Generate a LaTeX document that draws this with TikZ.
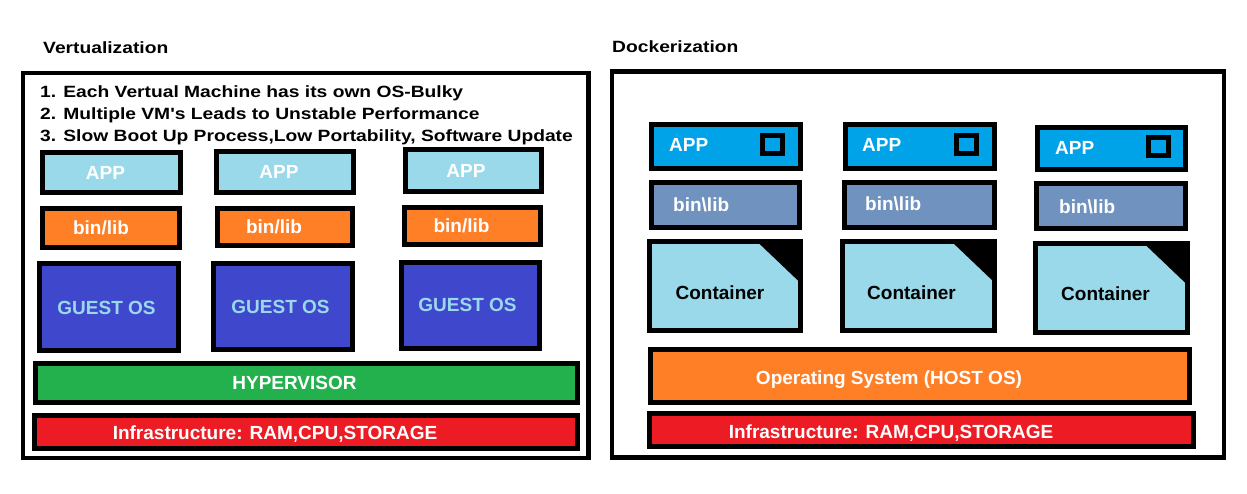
\documentclass[tikz,border=0pt]{standalone}
\usepackage{fontspec}
\setmainfont{Liberation Sans}
\definecolor{appL}{HTML}{99D9EA}
\definecolor{orng}{HTML}{FF7F27}
\definecolor{indg}{HTML}{3F48CC}
\definecolor{grn}{HTML}{22B14C}
\definecolor{rd}{HTML}{ED1C24}
\definecolor{appR}{HTML}{00A2E8}
\definecolor{binR}{HTML}{7092BE}
\newcommand\mkbox[6]{\node[#1, minimum width={(#5-#3)*1pt}, minimum height={(#6-#4)*1pt}] (#2) at ({(#3+#5)/2},{(#4+#6)/2}) {};}
\tikzset{
  frame/.style={draw=black, line width=4.5pt, inner sep=0pt, outer sep=0pt},
  blk/.style={draw=black, line width=5pt, inner sep=0pt, outer sep=0pt},
  lbl/.style={font=\fontsize{19}{21}\selectfont\bfseries, inner sep=0pt, text=white, anchor=base},
  lblw/.style={lbl, anchor=base west},
  head/.style={font=\fontsize{16.3}{18}\selectfont\bfseries, inner sep=0pt, anchor=base west, xscale=1.18},
}
\begin{document}
\begin{tikzpicture}[x=1pt,y=-1pt]
\fill[white] (0,0) rectangle (1247,494);
\useasboundingbox (0,0) rectangle (1247,494);

% ---------- Left panel: Virtualization ----------
\node[head] (tV) at (43,53.3) {Vertualization};
\mkbox{frame}{outL}{23}{73}{588.5}{458}
\node[head] (l1) at (40,97.3) {1. Each Vertual Machine has its own OS-Bulky};
\node[head] (l2) at (40,119.3) {2. Multiple VM\textquotesingle s Leads to Unstable Performance};
\node[head] (l3) at (40,141.7) {3. Slow Boot Up Process,Low Portability, Software Update};

\mkbox{blk,fill=appL}{aL1}{42.5}{152.5}{180.5}{193}
\mkbox{blk,fill=appL}{aL2}{216.5}{151.5}{353}{192.5}
\mkbox{blk,fill=appL}{aL3}{405}{150}{541.5}{191.5}
\node[lbl] (taL1) at (105.5,179.5) {APP};
\node[lbl] (taL2) at (279,178.5) {APP};
\node[lbl] (taL3) at (466,177.5) {APP};

\mkbox{blk,fill=orng}{bL1}{42.5}{209}{179}{248}
\mkbox{blk,fill=orng}{bL2}{217.5}{208.5}{352}{246}
\mkbox{blk,fill=orng}{bL3}{404}{207.5}{540}{245}
\node[lbl] (tbL1) at (101,235) {bin/lib};
\node[lbl] (tbL2) at (274,234) {bin/lib};
\node[lbl] (tbL3) at (461.5,233) {bin/lib};

\mkbox{blk,fill=indg}{gL1}{39}{264}{178}{350}
\mkbox{blk,fill=indg}{gL2}{213}{264}{352}{349}
\mkbox{blk,fill=indg}{gL3}{401}{262.5}{539.5}{348}
\node[lbl,text=appL] (tgL1) at (106.5,314) {GUEST OS};
\node[lbl,text=appL] (tgL2) at (280.5,313) {GUEST OS};
\node[lbl,text=appL] (tgL3) at (467.5,312) {GUEST OS};

\mkbox{blk,fill=grn}{hyp}{35.5}{363}{577.5}{402.5}
\node[lbl] (thyp) at (294.5,389) {HYPERVISOR};
\mkbox{blk,fill=rd}{infL}{34}{415}{577.5}{448}
\node[lbl] (tinfL) at (275,439.5) {Infrastructure: RAM,CPU,STORAGE};

% ---------- Right panel: Dockerization ----------
\node[head] (tD) at (612,52.5) {Dockerization};
\mkbox{frame}{outR}{612}{71.7}{1224}{457.5}

\mkbox{blk,fill=appR}{aR1}{651.5}{125}{800.8}{168.3}
\mkbox{blk,fill=appR}{aR2}{845}{125}{994.5}{168.3}
\mkbox{blk,fill=appR}{aR3}{1037.5}{127.5}{1185.8}{170}
\mkbox{blk,fill=appR}{iR1}{762.5}{135.2}{782.5}{153.5}
\mkbox{blk,fill=appR}{iR2}{956}{135.2}{976}{153.5}
\mkbox{blk,fill=appR}{iR3}{1148.5}{137.5}{1168.2}{155.8}
\node[lblw] (taR1) at (669,151.7) {APP};
\node[lblw] (taR2) at (862,151.7) {APP};
\node[lblw] (taR3) at (1055,154.3) {APP};

\mkbox{blk,fill=binR}{bR1}{651}{182.5}{799}{227.5}
\mkbox{blk,fill=binR}{bR2}{844}{182.5}{994.5}{227.5}
\mkbox{blk,fill=binR}{bR3}{1036.5}{184}{1185}{229}
\node[lblw] (tbR1) at (673,211.7) {bin\textbackslash lib};
\node[lblw] (tbR2) at (865,211) {bin\textbackslash lib};
\node[lblw] (tbR3) at (1059,213.3) {bin\textbackslash lib};

\mkbox{blk,fill=appL}{cR1}{649}{241.5}{800}{330}
\mkbox{blk,fill=appL}{cR2}{842.5}{241.5}{994.5}{330}
\mkbox{blk,fill=appL}{cR3}{1035}{243.5}{1187}{332.5}
\foreach \c in {cR1,cR2,cR3}{
  \fill[black] (\c.north east) ++(-43,0) -- (\c.north east) -- ++(0,41) -- cycle;
}
\node[lbl,text=black] (tcR1) at (720,299.3) {Container};
\node[lbl,text=black] (tcR2) at (911.5,299.5) {Container};
\node[lbl,text=black] (tcR3) at (1105.5,301) {Container};

\mkbox{blk,fill=orng}{os}{650}{349}{1189}{402.5}
\node[lbl] (tos) at (889,384) {Operating System (HOST OS)};
\mkbox{blk,fill=rd}{infR}{649}{413.5}{1193.5}{446}
\node[lbl] (tinfR) at (891,438) {Infrastructure: RAM,CPU,STORAGE};
\end{tikzpicture}
\end{document}
